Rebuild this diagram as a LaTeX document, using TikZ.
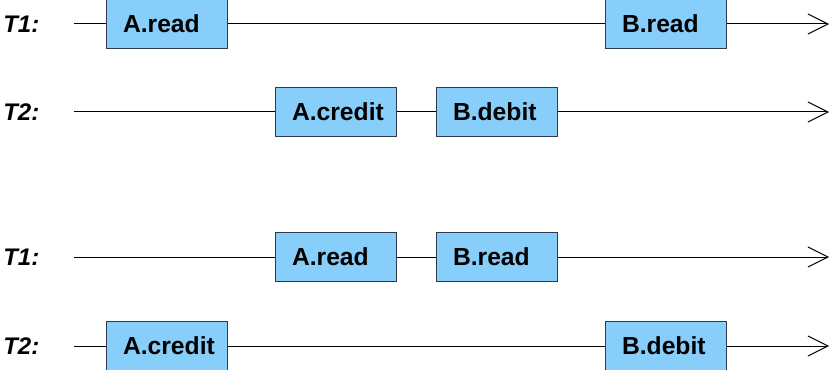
\documentclass[tikz,border=0pt]{standalone}
\usepackage{fontspec}
\setmainfont{Liberation Sans}
\usetikzlibrary{arrows.meta}
\definecolor{opfill}{HTML}{87CEFA}
\definecolor{opline}{HTML}{2E3B4E}

\tikzset{
  op/.style={draw=opline, fill=opfill, line width=0.75pt, inner xsep=0pt, inner ysep=0pt,
    text width=90.75pt, align=left, minimum height=36.75pt,
    execute at begin node=\hspace*{12.75pt},
    font=\fontsize{18.5}{22}\selectfont\bfseries},
  txn/.style={anchor=west, inner sep=0pt, font=\fontsize{18}{22}\selectfont\bfseries\itshape},
  timeline/.style={line width=0.75pt, -{Straight Barb[length=15pt,width=15pt,line width=0.75pt]}}
}

\begin{document}
\begin{tikzpicture}[x=0.75pt, y=-0.75pt]
    \useasboundingbox (0,0) rectangle (830,370);
    % schedule one
    \node[txn] (ta1) at (3,24) {T1:};
    \node[txn] (ta2) at (3,112) {T2:};
    \coordinate (sa1) at (74,24);
    \coordinate (ea1) at (829,24);
    \coordinate (sa2) at (74,112);
    \coordinate (ea2) at (829,112);
    \node[op] (aread1) at (166.5,24) {A.read};
    \node[op] (bread1) at (665.5,24) {B.read};
    \node[op] (acredit1) at (335.5,112) {A.credit};
    \node[op] (bdebit1) at (496.5,112) {B.debit};
    \draw[timeline] (sa1) -- (aread1) -- (bread1) -- (ea1);
    \draw[timeline] (sa2) -- (acredit1) -- (bdebit1) -- (ea2);
    % schedule two
    \node[txn] (tb1) at (3,257) {T1:};
    \node[txn] (tb2) at (3,346) {T2:};
    \coordinate (sb1) at (74,257);
    \coordinate (eb1) at (829,257);
    \coordinate (sb2) at (74,346);
    \coordinate (eb2) at (829,346);
    \node[op] (aread2) at (335.5,257) {A.read};
    \node[op] (bread2) at (496.5,257) {B.read};
    \node[op] (acredit2) at (166.5,346) {A.credit};
    \node[op] (bdebit2) at (665.5,346) {B.debit};
    \draw[timeline] (sb1) -- (aread2) -- (bread2) -- (eb1);
    \draw[timeline] (sb2) -- (acredit2) -- (bdebit2) -- (eb2);
\end{tikzpicture}
\end{document}
